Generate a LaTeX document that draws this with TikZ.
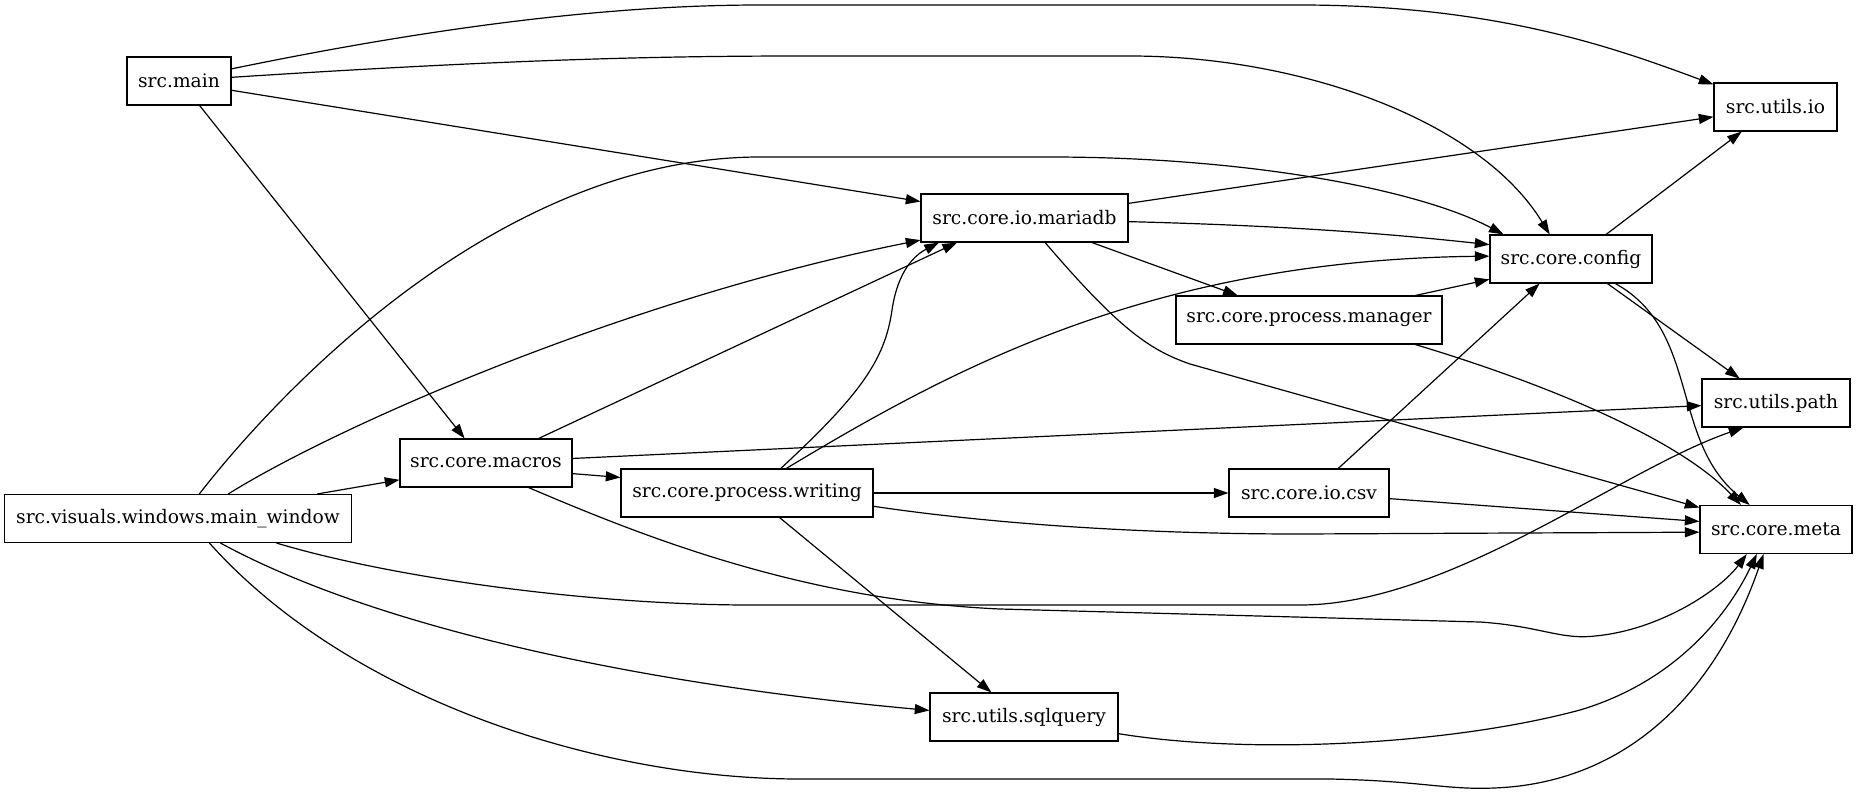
\documentclass[tikz,border=0pt]{standalone}
\usepackage{fontspec}
\setmainfont{DejaVu Serif}
\usetikzlibrary{arrows.meta, positioning}

\begin{document}
\begin{tikzpicture}[x=0.75pt, y=-0.75pt,
    module/.style={shape=rectangle, draw, line width=0.8pt, minimum height=36pt, inner sep=2pt, font=\fontsize{14pt}{16pt}\selectfont},
    dep/.style={line width=0.9pt, -{Triangle[length=11pt, width=7.5pt]}}]
    \useasboundingbox (0,0) rectangle (1857,793);
    % Modules:
    \node[module, minimum width=78pt] (main) at (179,81) {src.main};
    \node[module, minimum width=92.25pt] (uio) at (1775.5,107) {src.utils.io};
    \node[module, minimum width=155.25pt] (mariadb) at (1024.5,218) {src.core.io.mariadb};
    \node[module, minimum width=121.5pt] (config) at (1571,259) {src.core.config};
    \node[module, minimum width=199.5pt] (manager) at (1309,320) {src.core.process.manager};
    \node[module, minimum width=111pt] (upath) at (1776,403) {src.utils.path};
    \node[module, minimum width=129pt] (macros) at (486,463) {src.core.macros};
    \node[module, minimum width=189pt] (writing) at (747,493) {src.core.process.writing};
    \node[module, minimum width=120pt] (csv) at (1309,493) {src.core.io.csv};
    \node[module, minimum width=260.25pt] (mainwin) at (178,518.5) {src.visuals.windows.main\_window};
    \node[module, minimum width=114pt] (meta) at (1776,529.5) {src.core.meta};
    \node[module, minimum width=141pt] (sqlq) at (1024,717) {src.utils.sqlquery};

    % Imports of src.main:
    \draw[dep] (main.13) .. controls (420,30) and (600,5) .. (760,5) -- (1300,5) .. controls (1500,5) and (1620,50) .. (uio.160);
    \draw[dep] (main.4) .. controls (500,60) and (650,56) .. (800,56) -- (1130,56) .. controls (1300,56) and (1480,120) .. (config.131);
    \draw[dep] (main.-10) -- (mariadb.171);
    \draw[dep] (main.-50) -- (macros.131);

    % Imports of the main window:
    \draw[dep] (mainwin.49) .. controls (280,390) and (500,157) .. (760,157) -- (1050,157) .. controls (1250,157) and (1420,190) .. (config.160);
    \draw[dep] (mainwin.26) .. controls (330,430) and (620,300) .. (mariadb.192);
    \draw[dep] (mainwin.10) -- (macros.191);
    \draw[dep] (mainwin.-14) .. controls (400,580) and (600,605) .. (750,605) -- (1300,605) .. controls (1450,605) and (1620,470) .. (upath.-143);
    \draw[dep] (mainwin.-30) .. controls (380,630) and (650,685) .. (sqlq.176);
    \draw[dep] (mainwin.-38) .. controls (350,700) and (600,779) .. (800,779) -- (1330,779) .. controls (1430,781) and (1450,792) .. (1510,787) .. controls (1640,775) and (1720,680) .. (meta.-117);

    % Imports of src.core.macros:
    \draw[dep] (macros.25) -- (mariadb.-160);
    \draw[dep] (macros.3) -- (upath.182);
    \draw[dep] (macros.-7) -- (writing.173);
    \draw[dep] (macros.-30) .. controls (640,535) and (800,600) .. (1000,609) -- (1480,622) .. controls (1540,626) and (1560,640) .. (1595,636) .. controls (1660,630) and (1720,590) .. (meta.-140);

    % Imports of src.core.process.writing:
    \draw[dep] (writing.36) .. controls (860,395) and (885,360) .. (892,310) .. controls (898,270) and (915,255) .. (mariadb.-164);
    \draw[dep] (writing.32) .. controls (950,370) and (1150,260) .. (config.178);
    \draw[dep] (writing.east) -- (csv.west);
    \draw[dep] (writing.-6) .. controls (1000,525) and (1150,534) .. (1300,534) -- (meta.182);
    \draw[dep] (writing.-37) -- (sqlq.143);

    % Imports of src.core.io.mariadb:
    \draw[dep] (mariadb.8) -- (uio.189);
    \draw[dep] (mariadb.-2) .. controls (1300,226) and (1400,235) .. (config.170);
    \draw[dep] (mariadb.-20) -- (manager.161);
    \draw[dep] (mariadb.-50) .. controls (1120,330) and (1150,350) .. (1190,364) -- (meta.164);

    % Imports of manager, csv, config and sqlquery:
    \draw[dep] (manager.13) -- (config.194);
    \draw[dep] (manager.-13) .. controls (1550,385) and (1680,440) .. (meta.145);
    \draw[dep] (csv.40) -- (config.-142);
    \draw[dep] (csv.-4) -- (meta.174);
    \draw[dep] (config.35) -- (uio.-144);
    \draw[dep] (config.-34) -- (upath.146);
    \draw[dep] (config.-29) .. controls (1700,330) and (1670,440) .. (meta.137);
    \draw[dep] (sqlq.-10) .. controls (1250,755) and (1450,745) .. (1580,710) .. controls (1680,680) and (1730,610) .. (meta.-128);
\end{tikzpicture}
\end{document}
